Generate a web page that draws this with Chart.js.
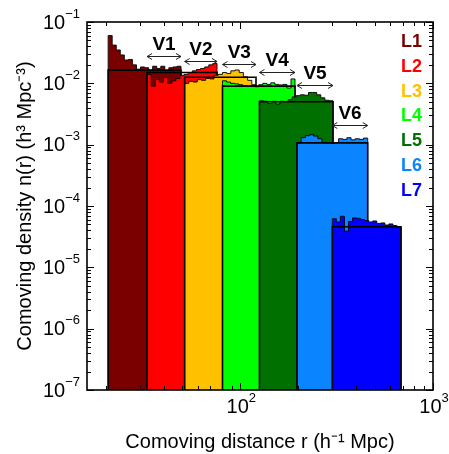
<!DOCTYPE html>
<html><head><meta charset="utf-8">
<script src="https://cdn.jsdelivr.net/npm/chart.js@4.4.0/dist/chart.umd.min.js"></script>
<style>html,body{margin:0;padding:0;background:#fff}</style>
</head><body>
<canvas id="c" width="449" height="454"></canvas>
<script>
// ---------------- data ----------------
const sampleNames  = ['L1','L2','L3','L4','L5','L6','L7'];
const sampleColors = ['#7a0000','#ff0000','#ffc000','#00ff00','#007000','#0a84ff','#0000ff'];
const rMin  = [20.6, 32.8, 51.4, 80.8, 125.7, 196.8, 300.2];
const rMax  = [49.2, 75.7, 120.6, 192.2, 302.7, 458.2, 682.3];
const nMean = [0.0164, 0.0150, 0.0126, 0.0090, 0.0050, 0.00107, 4.6e-5];
const histL1 = [0.060,0.042,0.035,0.029,0.024,0.0245,0.020,0.017,0.0185,0.018,0.0165,0.019,0.0175,0.019,0.0158,0.018,0.0185,0.019];
const histL2 = [0.0140,0.0090,0.0115,0.0105,0.0125,0.0100,0.0110,0.0120,0.0135,0.0140,0.0150,0.0160,0.0168,0.0175,0.0185,0.0200,0.0210];
const histL3 = [0.0100,0.0108,0.0105,0.0115,0.0112,0.0120,0.0118,0.0135,0.0140,0.0150,0.0145,0.0160,0.0165,0.0150,0.0128,0.0112,0.0095];
const histL4 = [0.0110,0.0105,0.0100,0.0098,0.0095,0.0092,0.0090,0.0092,0.0088,0.0095,0.0100,0.0096,0.0102,0.0096,0.0094,0.0096,0.0084,0.0118];
const histL5 = [0.0052,0.0051,0.0047,0.0051,0.0046,0.0051,0.0050,0.0054,0.0060,0.0063,0.0065,0.0064,0.0071,0.0071,0.0065,0.0058,0.0053,0.0052];
const histL6 = [0.00107,0.00130,0.00140,0.00145,0.00138,0.00125,0.00107,0.00107,0.00105,0.00108,0.00125,0.00122,0.00130,0.00120,0.00125,0.00122,0.00128];
const histL7 = [6.2e-5,5.5e-5,6.8e-5,3.9e-5,5.6e-5,6.4e-5,6.3e-5,6.0e-5,5.8e-5,5.5e-5,5.7e-5,5.2e-5,5.3e-5,4.9e-5,5.1e-5,4.8e-5,4.6e-5];
const overlapNames  = ['V1','V2','V3','V4','V5','V6'];
const overlapLevels = [0.0277, 0.0232, 0.0205, 0.0152, 0.00957, 0.00208];
const xTickValues = [100, 1000];
const xTickExps   = ['2', '3'];
const yTickValues = [1e-7, 1e-6, 1e-5, 1e-4, 1e-3, 1e-2, 1e-1];
const yTickExps   = ['\u22127','\u22126','\u22125','\u22124','\u22123','\u22122','\u22121'];
const X_MIN = 16, X_MAX = 1000, Y_MIN = 1e-7, Y_MAX = 1e-1;
// ---------------------------------------

const hists = [histL1, histL2, histL3, histL4, histL5, histL6, histL7];
const FONT = '"Liberation Sans", Arial, Helvetica, sans-serif';

function histPoints(i) {
  const v = hists[i], n = v.length;
  const a = Math.log10(rMin[i]), b = Math.log10(rMax[i]);
  const edges = [];
  for (let k = 0; k <= n; k++) edges.push(Math.pow(10, a + (b - a) * k / n));
  const pts = [{x: edges[0], y: Y_MIN}];
  for (let k = 0; k < n; k++) pts.push({x: edges[k], y: v[k]});
  pts.push({x: edges[n], y: v[n - 1]});
  pts.push({x: edges[n], y: Y_MIN});
  return pts;
}
function flatPoints(i) {
  return [{x: rMin[i], y: Y_MIN}, {x: rMin[i], y: nMean[i]}, {x: rMax[i], y: nMean[i]}, {x: rMax[i], y: Y_MIN}];
}

const datasets = [];
sampleNames.forEach((nm, i) => {
  datasets.push({
    label: nm + ' n(r)', data: histPoints(i), stepped: true,
    backgroundColor: sampleColors[i], borderColor: '#000', borderWidth: 0.9,
    fill: 'start', pointRadius: 0, order: 100 - 2 * i
  });
  datasets.push({
    label: nm + ' mean', data: flatPoints(i), stepped: false, tension: 0,
    borderColor: '#000', borderWidth: 1.6, fill: false, pointRadius: 0, order: 99 - 2 * i
  });
});

function powLabel(ctx, exp, xPos, yPos, align) {
  ctx.font = '20px ' + FONT;
  const wb = ctx.measureText('10').width;
  ctx.font = '13px ' + FONT;
  const we = ctx.measureText(exp).width;
  let x0 = align === 'right' ? xPos - wb - we : xPos - (wb + we) / 2;
  ctx.textAlign = 'left';
  ctx.textBaseline = 'middle';
  ctx.font = '20px ' + FONT;
  ctx.fillText('10', x0, yPos);
  ctx.font = '13px ' + FONT;
  ctx.fillText(exp, x0 + wb, yPos - 9);
}

const decor = {
  id: 'decor',
  afterDraw(chart) {
    const {ctx, chartArea: {left, right, top, bottom}, scales: {x, y}} = chart;
    ctx.save();
    ctx.strokeStyle = '#000';
    ctx.lineWidth = 1;
    // inward ticks
    for (let e = 1; e <= 3; e++) for (let m = 1; m <= 9; m++) {
      const v = m * Math.pow(10, e);
      if (v < X_MIN || v > X_MAX) continue;
      const px = Math.round(x.getPixelForValue(v)) + 0.5;
      const L = m === 1 ? 7 : 4;
      ctx.beginPath();
      ctx.moveTo(px, bottom); ctx.lineTo(px, bottom - L);
      ctx.moveTo(px, top); ctx.lineTo(px, top + L);
      ctx.stroke();
    }
    for (let e = -7; e <= -1; e++) for (let m = 1; m <= 9; m++) {
      const v = m * Math.pow(10, e);
      if (v < Y_MIN * 0.999 || v > Y_MAX * 1.001) continue;
      const py = Math.round(y.getPixelForValue(v)) + 0.5;
      const L = m === 1 ? 7 : 4;
      ctx.beginPath();
      ctx.moveTo(left, py); ctx.lineTo(left + L, py);
      ctx.moveTo(right, py); ctx.lineTo(right - L, py);
      ctx.stroke();
    }
    // frame
    ctx.lineWidth = 1.6;
    ctx.strokeRect(left, top, right - left, bottom - top);
    // tick labels
    ctx.fillStyle = '#000';
    yTickValues.forEach((v, k) => powLabel(ctx, yTickExps[k], left - 7, y.getPixelForValue(v) + 1, 'right'));
    xTickValues.forEach((v, k) => powLabel(ctx, xTickExps[k], x.getPixelForValue(v) + 1, bottom + 17, 'center'));
    // overlap arrows
    ctx.strokeStyle = '#222';
    ctx.lineWidth = 1;
    overlapNames.forEach((nm, i) => {
      const x1 = x.getPixelForValue(rMin[i + 1]);
      const x2 = x.getPixelForValue(rMax[i]);
      const yy = Math.round(y.getPixelForValue(overlapLevels[i])) + 0.5;
      ctx.beginPath();
      ctx.moveTo(x1, yy); ctx.lineTo(x2, yy);
      ctx.moveTo(x1 + 5, yy - 3); ctx.lineTo(x1, yy); ctx.lineTo(x1 + 5, yy + 3);
      ctx.moveTo(x2 - 5, yy - 3); ctx.lineTo(x2, yy); ctx.lineTo(x2 - 5, yy + 3);
      ctx.stroke();
      ctx.fillStyle = '#000';
      ctx.font = 'bold 19px ' + FONT;
      ctx.textAlign = 'center';
      ctx.textBaseline = 'middle';
      ctx.fillText(nm, (x1 + x2) / 2, yy - 12);
    });
    // sample labels
    ctx.font = 'bold 18px ' + FONT;
    ctx.textAlign = 'center';
    ctx.textBaseline = 'middle';
    sampleNames.forEach((nm, i) => {
      ctx.fillStyle = sampleColors[i];
      ctx.fillText(nm, right - 21.5, top + 20 + 24.8 * i);
    });
    ctx.restore();
  }
};

new Chart(document.getElementById('c'), {
  type: 'line',
  data: { datasets },
  options: {
    responsive: false, animation: false,
    layout: { padding: { left: 0, right: 16, top: 22, bottom: 0 } },
    plugins: { legend: { display: false }, tooltip: { enabled: false } },
    scales: {
      x: {
        type: 'logarithmic', min: X_MIN, max: X_MAX,
        grid: { display: false, drawTicks: false }, border: { display: false },
        afterBuildTicks: (s) => { s.ticks = xTickValues.map(v => ({value: v})); },
        afterFit: (s) => { s.height = 64; },
        ticks: { display: false },
        title: { display: true, text: 'Comoving distance r (h\u207b\u00b9 Mpc)', color: '#000',
                 font: { family: FONT, size: 20 }, padding: { top: 0, bottom: 0 } }
      },
      y: {
        type: 'logarithmic', min: Y_MIN, max: Y_MAX,
        grid: { display: false, drawTicks: false }, border: { display: false },
        afterBuildTicks: (s) => { s.ticks = yTickValues.map(v => ({value: v})); },
        afterFit: (s) => { s.width = 87; },
        ticks: { display: false },
        title: { display: true, text: 'Comoving density n(r) (h\u00b3 Mpc\u207b\u00b3)', color: '#000',
                 font: { family: FONT, size: 20 }, padding: { top: 13, bottom: 0 } }
      }
    }
  },
  plugins: [decor]
});
</script>
</body></html>
